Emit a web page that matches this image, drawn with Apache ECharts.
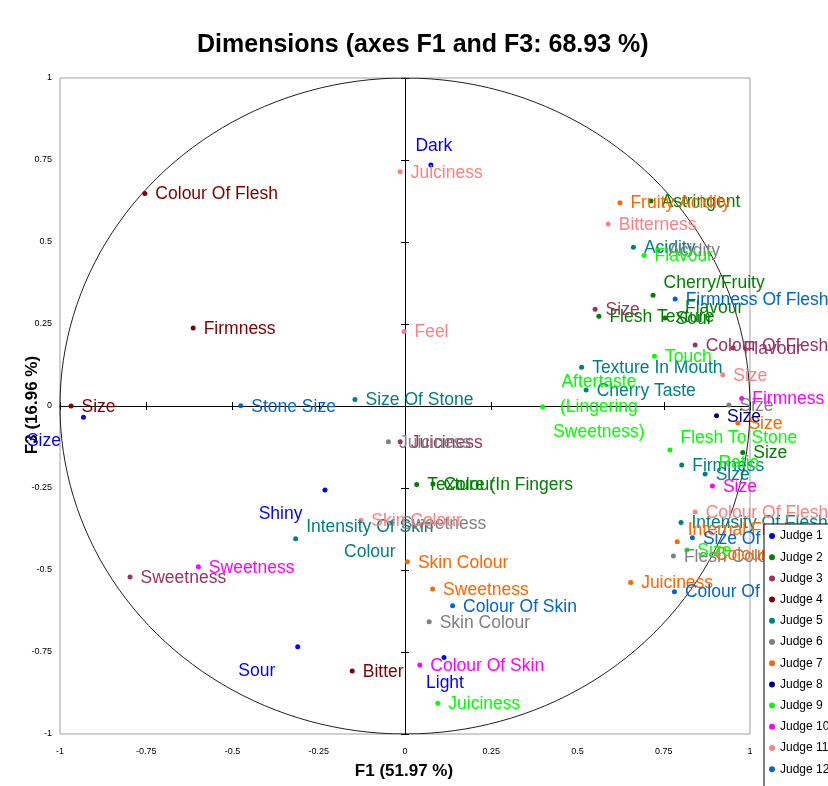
<!DOCTYPE html>
<html>
<head>
<meta charset="utf-8">
<script src="https://cdn.jsdelivr.net/npm/echarts@6/dist/echarts.min.js"></script>
<style>
  html, body { margin: 0; padding: 0; background: #ffffff; }
  #chart { width: 828px; height: 786px; }
</style>
</head>
<body>
<div id="chart"></div>
<script>
// Correlation circle: attributes of each judge projected on factors F1 and F3.
const judges = ['Judge 1', 'Judge 2', 'Judge 3', 'Judge 4', 'Judge 5', 'Judge 6',
                'Judge 7', 'Judge 8', 'Judge 9', 'Judge 10', 'Judge 11', 'Judge 12'];
const judgeColors = ['#0000ff', '#008000', '#993366', '#800000', '#008080', '#808080',
                     '#ff6600', '#000080', '#00ff00', '#ff00ff', '#ff8080', '#0066cc'];
const axisTicks = [-1, -0.75, -0.5, -0.25, 0, 0.25, 0.5, 0.75, 1];

// [attribute, F1, F3]
const judge1 = [
  ['Dark', 0.075, 0.735],
  ['Size', -0.932, -0.034],
  ['Shiny', -0.232, -0.256],
  ['Sour', -0.311, -0.734],
  ['Light', 0.113, -0.767]
];
const judge2 = [
  ['Astringent', 0.713, 0.625],
  ['Cherry/Fruity\nFlavour', 0.719, 0.338],
  ['Flesh Texture', 0.562, 0.274],
  ['Sour', 0.754, 0.268],
  ['Size', 0.979, -0.142],
  ['Texture (In Fingers', 0.034, -0.239],
  ['Colour', 0.081, -0.238]
];
const judge3 = [
  ['Size', 0.551, 0.295],
  ['Colour Of Flesh', 0.841, 0.186],
  ['Flavour', 0.951, 0.177],
  ['Juiciness', -0.014, -0.109],
  ['Sweetness', -0.797, -0.521]
];
const judge4 = [
  ['Colour Of Flesh', -0.754, 0.648],
  ['Firmness', -0.614, 0.238],
  ['Size', -0.968, 0.0],
  ['Bitter', -0.153, -0.808]
];
const judge5 = [
  ['Acidity', 0.662, 0.484],
  ['Texture In Mouth', 0.512, 0.118],
  ['Cherry Taste', 0.525, 0.049],
  ['Size Of Stone', -0.145, 0.020],
  ['Firmness', 0.802, -0.180],
  ['Size', 0.870, -0.207],
  ['Intensity Of Skin\nColour', -0.317, -0.405],
  ['Intensity Of Flesh', 0.800, -0.355]
];
const judge6 = [
  ['Acidity', 0.733, 0.476],
  ['Juiciness', -0.048, -0.109],
  ['Size', 0.939, 0.003],
  ['Sweetness', -0.043, -0.357],
  ['Flesh Colour', 0.778, -0.457],
  ['Skin Colour', 0.070, -0.658]
];
const judge7 = [
  ['Fruity Acidity', 0.623, 0.620],
  ['Size', 0.965, -0.052],
  ['Internal Flesh\nColour', 0.789, -0.414],
  ['Juiciness', 0.654, -0.538],
  ['Skin Colour', 0.007, -0.475],
  ['Sweetness', 0.080, -0.558]
];
const judge8 = [
  ['Size', 0.903, -0.030]
];
const judge9 = [
  ['Flavour', 0.693, 0.459],
  ['Touch', 0.723, 0.152],
  ['Aftertaste\n(Lingering\nSweetness)', 0.399, -0.002],
  ['Flesh To Stone\nRatio', 0.768, -0.134],
  ['Size', 0.817, -0.439],
  ['Juiciness', 0.095, -0.906]
];
const judge10 = [
  ['Firmness', 0.976, 0.023],
  ['Size', 0.891, -0.244],
  ['Sweetness', -0.599, -0.490],
  ['Colour Of Skin', 0.043, -0.790]
];
const judge11 = [
  ['Juiciness', -0.014, 0.714],
  ['Bitterness', 0.589, 0.555],
  ['Feel', -0.003, 0.227],
  ['Size', 0.921, 0.095],
  ['Colour Of Flesh', 0.841, -0.323],
  ['Skin Colour', -0.128, -0.348]
];
const judge12 = [
  ['Firmness Of Flesh', 0.783, 0.326],
  ['Stone Size', -0.476, 0.001],
  ['Size Of Stone', 0.833, -0.402],
  ['Colour Of Skin', 0.781, -0.566],
  ['Colour Of Skin', 0.138, -0.609]
];
const judgeData = [judge1, judge2, judge3, judge4, judge5, judge6,
                   judge7, judge8, judge9, judge10, judge11, judge12];

// Labels that sit somewhere other than to the right of their marker.
const labelSide = {
  0: { 'Dark': 'above', 'Size': 'belowLeft', 'Shiny': 'belowLeft', 'Sour': 'belowLeft', 'Light': 'below' }
};

const FONT = '"Liberation Sans", Arial, Helvetica, sans-serif';
const LABEL_SIZE = 17.5;
const measureCtx = document.createElement('canvas').getContext('2d');
measureCtx.font = LABEL_SIZE + 'px ' + FONT;
function widestLine(text) {
  return Math.max.apply(null, text.split('\n').map(function (l) { return measureCtx.measureText(l).width; }));
}

function makeLabel(name, side, color) {
  const base = { show: true, formatter: '{b}', color: color, opacity: 1, fontSize: LABEL_SIZE, fontFamily: FONT, lineHeight: 25 };
  if (side === 'above') return Object.assign(base, { position: 'top', distance: 4, offset: [3, 0] });
  if (side === 'below') return Object.assign(base, { position: 'bottom', distance: 11, offset: [1, 0] });
  if (side === 'belowLeft') return Object.assign(base, { position: 'left', distance: 20, offset: [0, 24] });
  if (name.indexOf('\n') >= 0) {
    return Object.assign(base, { position: 'right', distance: 8, align: 'center', offset: [widestLine(name) / 2, 1] });
  }
  return Object.assign(base, { position: 'right', distance: 8, offset: [0, 1] });
}

const scatterSeries = judgeData.map(function (rows, j) {
  const sides = labelSide[j] || {};
  return {
    name: judges[j],
    type: 'scatter',
    xAxisIndex: 0,
    yAxisIndex: 0,
    symbol: 'circle',
    symbolSize: 5,
    itemStyle: { color: judgeColors[j], opacity: 1 },
    z: 3,
    data: rows.map(function (r) {
      return { name: r[0], value: [r[1], r[2]], label: makeLabel(r[0], sides[r[0]], judgeColors[j]) };
    })
  };
});

// Unit circle of correlations
const circle = [];
for (let a = 0; a <= 360; a += 2) {
  const t = a * Math.PI / 180;
  circle.push([Math.cos(t), Math.sin(t)]);
}

const valueAxisBase = { type: 'value', min: -1, max: 1, interval: 0.25, splitLine: { show: false } };
const tickFmt = function (v) { return axisTicks.indexOf(v) >= 0 ? String(v) : ''; };

const chart = echarts.init(document.getElementById('chart'), null, { renderer: 'canvas' });
chart.setOption({
  animation: false,
  backgroundColor: '#ffffff',
  title: {
    text: 'Dimensions (axes F1 and F3: 68.93 %)',
    left: 197, top: 33, padding: 0,
    textStyle: { fontSize: 25, fontWeight: 'bold', color: '#000', fontFamily: FONT }
  },
  grid: { left: 60, right: 78, top: 78, bottom: 52, show: true, borderColor: '#a0a0a0', borderWidth: 1 },
  xAxis: [
    Object.assign({}, valueAxisBase, {
      position: 'bottom',
      axisLine: { show: false, onZero: false },
      axisTick: { show: false },
      axisLabel: { show: true, formatter: tickFmt, fontSize: 9, color: '#000', fontFamily: FONT, margin: 13 }
    }),
    Object.assign({}, valueAxisBase, {
      position: 'bottom',
      axisLine: { show: true, onZero: true, onZeroAxisIndex: 0, lineStyle: { color: '#000', width: 1 } },
      axisTick: { show: true, length: 4, lineStyle: { color: '#000' } },
      axisLabel: { show: false }
    }),
    Object.assign({}, valueAxisBase, {
      position: 'bottom',
      axisLine: { show: false, onZero: true, onZeroAxisIndex: 0 },
      axisTick: { show: true, inside: true, length: 4, lineStyle: { color: '#000' } },
      axisLabel: { show: false }
    })
  ],
  yAxis: [
    Object.assign({}, valueAxisBase, {
      position: 'left',
      axisLine: { show: false, onZero: false },
      axisTick: { show: false },
      axisLabel: { show: true, formatter: tickFmt, fontSize: 9, color: '#000', fontFamily: FONT, margin: 8 }
    }),
    Object.assign({}, valueAxisBase, {
      position: 'left',
      axisLine: { show: true, onZero: true, onZeroAxisIndex: 0, lineStyle: { color: '#000', width: 1 } },
      axisTick: { show: true, length: 4, lineStyle: { color: '#000' } },
      axisLabel: { show: false }
    }),
    Object.assign({}, valueAxisBase, {
      position: 'left',
      axisLine: { show: false, onZero: true, onZeroAxisIndex: 0 },
      axisTick: { show: true, inside: true, length: 4, lineStyle: { color: '#000' } },
      axisLabel: { show: false }
    })
  ],
  legend: {
    data: judges,
    orient: 'vertical',
    left: 764, top: 524, height: 300,
    padding: [6, 20, 30, 5],
    itemWidth: 6, itemHeight: 6, itemGap: 9.2,
    icon: 'circle',
    backgroundColor: '#ffffff',
    borderColor: '#000000', borderWidth: 1,
    textStyle: { fontSize: 12, color: '#000', fontFamily: FONT }
  },
  graphic: [
    { type: 'text', x: 404, y: 771, style: { text: 'F1 (51.97 %)', fill: '#000', font: 'bold 17px ' + FONT, textAlign: 'center', textVerticalAlign: 'middle' } },
    { type: 'text', x: 32, y: 405, rotation: Math.PI / 2, style: { text: 'F3 (16.96 %)', fill: '#000', font: 'bold 17px ' + FONT, textAlign: 'center', textVerticalAlign: 'middle' } }
  ],
  series: [{
    type: 'line',
    xAxisIndex: 0, yAxisIndex: 0,
    data: circle,
    showSymbol: false,
    silent: true,
    lineStyle: { color: '#202020', width: 1 },
    z: 1
  }].concat(scatterSeries)
});
</script>
</body>
</html>
